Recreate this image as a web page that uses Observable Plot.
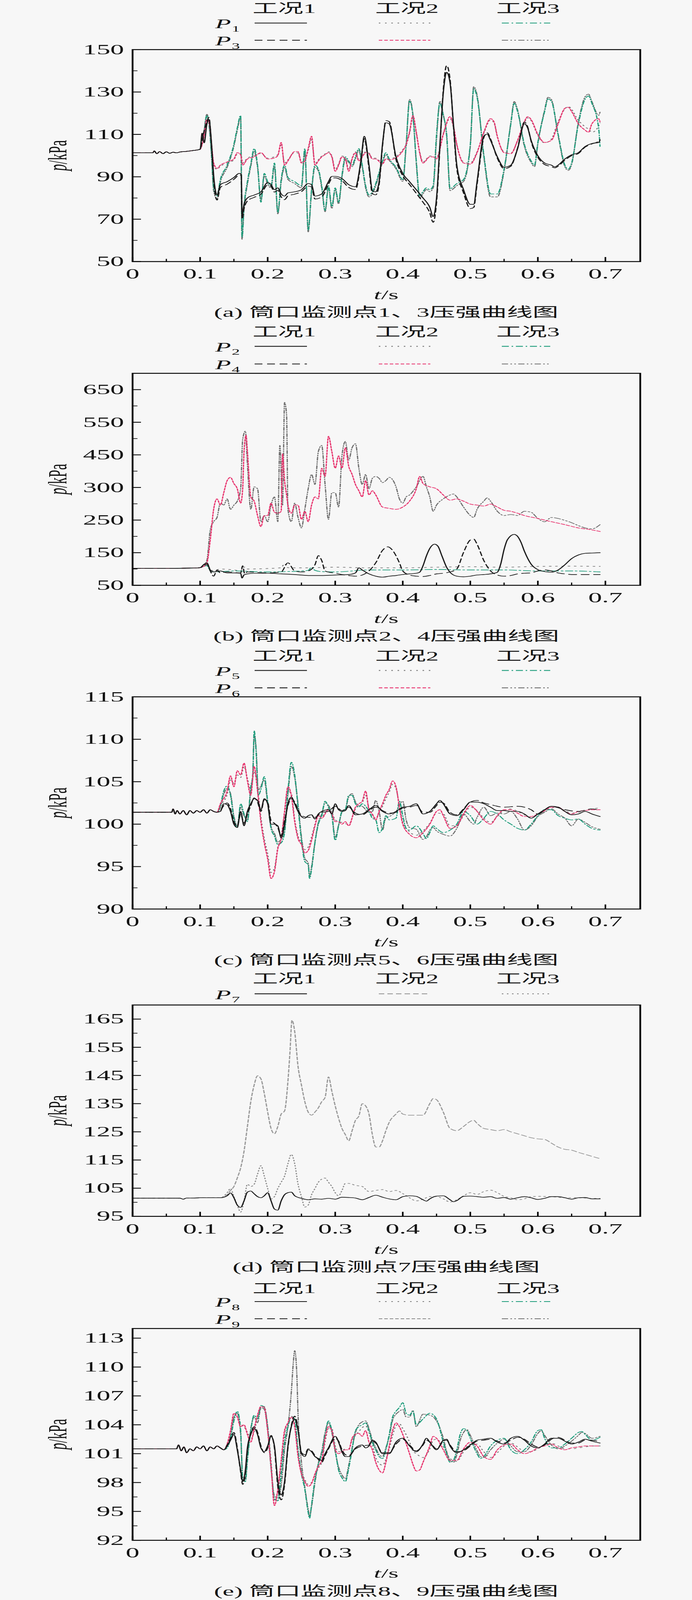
<!DOCTYPE html>
<html><head><meta charset="utf-8">
<script src="https://cdn.jsdelivr.net/npm/d3@7"></script>
<script src="https://cdn.jsdelivr.net/npm/@observablehq/plot@0.6"></script>
<style>
html,body{margin:0;padding:0;background:#f7f7f7;}
#root{position:relative;width:1772px;height:7918px;background:#f7f7f7;overflow:hidden;}
.cap{position:absolute;left:339px;width:1300px;height:80px;line-height:80px;text-align:center;font-size:66px;color:#111;font-family:"Liberation Serif","Noto Sans CJK SC",serif;white-space:nowrap;}
</style></head>
<body><div id="root"></div>
<script>
// ---------------- DATA ----------------
const xMajor = [0,0.1,0.2,0.3,0.4,0.5,0.6,0.7];
const xMinor = [0.05,0.15,0.25,0.35,0.45,0.55,0.65];
const xTickLabels = ["0","0.1","0.2","0.3","0.4","0.5","0.6","0.7"];
const caseNames = ["工况1","工况2","工况3"];

// Panel (a): P1 / P3
const a_start = [0,101.3, 0.03,101.3, 0.032,102.2, 0.036,100.9, 0.04,101.9, 0.045,100.9, 0.05,101.8, 0.055,101.1, 0.06,101.6, 0.065,101.3, 0.07,101.7, 0.08,102, 0.09,102.4, 0.098,102.8];
const a_c1_P1 = [0.1,103, 0.103,110.6, 0.106,106, 0.11,115, 0.113,117, 0.117,105, 0.12,90.7, 0.125,81.4, 0.13,86.3, 0.14,87.7, 0.15,89.7, 0.158,91.6, 0.161,91, 0.162,72, 0.165,77, 0.17,80, 0.18,81.4, 0.19,82.9, 0.2,87.3, 0.205,86.3, 0.21,83.9, 0.215,84.8, 0.22,81.9, 0.225,80.9, 0.23,82.4, 0.24,82.9, 0.25,83.9, 0.26,86.8, 0.265,86.3, 0.27,80.9, 0.28,81.9, 0.29,87.7, 0.295,90.2, 0.3,90.2, 0.31,89.2, 0.32,86.3, 0.33,85.3, 0.338,97.5, 0.343,109.1, 0.35,95.5, 0.355,83.4, 0.36,82.9, 0.365,87.7, 0.37,105.3, 0.375,115.5, 0.38,115, 0.39,99.4, 0.4,91.6, 0.41,87.7, 0.42,83.9, 0.43,80, 0.44,75.6, 0.445,71.2, 0.45,80, 0.455,105.3, 0.46,129.6, 0.465,139.3, 0.47,134.4, 0.475,115, 0.48,95.5, 0.49,83.9, 0.5,77, 0.505,77, 0.51,87.7, 0.52,109.1, 0.525,110.1, 0.53,107.2, 0.54,99.4, 0.55,94.5, 0.56,95.5, 0.57,103.3, 0.58,115, 0.585,113, 0.59,107.2, 0.6,99.9, 0.61,96.5, 0.62,95.5, 0.625,94.7, 0.63,95.5, 0.64,98.4, 0.65,100.4, 0.66,101.4, 0.67,104.3, 0.68,105.7, 0.69,106.2, 0.692,107.2];
const a_c1_P3 = [0.1,103, 0.104,109, 0.11,116, 0.113,118, 0.117,104, 0.12,88.5, 0.125,79, 0.13,85, 0.14,86.5, 0.15,88.8, 0.158,90.8, 0.161,90.5, 0.162,70, 0.165,75, 0.17,78.6, 0.18,80.3, 0.19,81.8, 0.2,86.2, 0.205,85.5, 0.21,82.8, 0.215,83.6, 0.22,80.5, 0.225,79.2, 0.23,81, 0.24,81.8, 0.25,83, 0.26,85.6, 0.265,85.2, 0.27,79.5, 0.28,80.5, 0.29,86.5, 0.295,89.2, 0.3,89.5, 0.31,88.2, 0.32,85, 0.33,84, 0.338,96.5, 0.343,108, 0.35,94, 0.355,82, 0.36,81.5, 0.365,86.5, 0.37,104.5, 0.375,116.5, 0.38,116, 0.39,98.2, 0.4,90.5, 0.41,86.4, 0.42,82.2, 0.43,78, 0.44,73, 0.445,68.5, 0.45,78, 0.455,104, 0.46,131, 0.465,142.5, 0.47,136, 0.475,114, 0.48,94, 0.49,82.4, 0.5,75, 0.505,75.5, 0.51,86.5, 0.52,108.5, 0.525,110.8, 0.53,107.8, 0.54,98.8, 0.55,93.8, 0.56,95, 0.57,103.6, 0.58,115.8, 0.585,113.5, 0.59,106.8, 0.6,99.2, 0.61,95.8, 0.62,94.8, 0.625,94.2, 0.63,95, 0.64,97.8, 0.65,100, 0.66,101, 0.67,104, 0.68,105.5, 0.69,106.8, 0.692,107.6];
const a_c2_P1 = [0.1,103, 0.105,109, 0.11,118, 0.113,115, 0.117,104, 0.12,95.5, 0.125,93.5, 0.13,95, 0.14,96.5, 0.15,98, 0.155,100.8, 0.16,101, 0.163,96.5, 0.17,98.8, 0.18,99.8, 0.19,101, 0.2,98.8, 0.21,99.5, 0.215,100.5, 0.22,105, 0.225,96.5, 0.23,98, 0.24,101.5, 0.245,101.2, 0.25,97, 0.255,98, 0.26,102.5, 0.265,107.5, 0.27,96.2, 0.275,98, 0.28,99.8, 0.285,100.8, 0.29,101.8, 0.295,99.8, 0.3,93.5, 0.305,96, 0.31,99.8, 0.315,98.8, 0.32,93.5, 0.325,98.8, 0.33,101.8, 0.335,98, 0.34,99.8, 0.345,101.8, 0.35,101.2, 0.355,98.8, 0.36,98.8, 0.37,96.5, 0.375,98.8, 0.38,98.5, 0.39,99.5, 0.4,102.8, 0.405,105, 0.41,110.5, 0.415,117.8, 0.42,110.5, 0.425,101.8, 0.43,97, 0.44,99.8, 0.445,99.8, 0.45,99, 0.46,110.5, 0.47,117.5, 0.475,113.5, 0.48,105, 0.49,97, 0.5,96.5, 0.51,101.8, 0.52,110.5, 0.53,116.8, 0.535,115.5, 0.54,108.8, 0.55,101.8, 0.56,101.2, 0.57,107, 0.58,115.5, 0.585,117.8, 0.59,116.5, 0.6,109.5, 0.61,106, 0.62,107.8, 0.63,116, 0.64,122, 0.645,123.2, 0.65,121.8, 0.66,116.5, 0.665,115, 0.67,113.5, 0.675,112.5, 0.68,111, 0.69,114, 0.692,115.5];
const a_c2_P3 = [0.1,103, 0.105,108, 0.11,117, 0.113,116, 0.117,105, 0.12,96.5, 0.125,94, 0.13,95.5, 0.14,97, 0.15,98.4, 0.155,101.4, 0.16,100.4, 0.163,95.5, 0.17,98.4, 0.18,99.4, 0.19,101.4, 0.2,98.4, 0.21,98.9, 0.215,100, 0.22,106.2, 0.225,95.5, 0.23,97.5, 0.24,101.9, 0.245,101.9, 0.25,96.5, 0.255,97.5, 0.26,103.3, 0.265,109.1, 0.27,95.5, 0.275,97.5, 0.28,99.4, 0.285,100.4, 0.29,101.4, 0.295,99.4, 0.3,92.6, 0.305,95.5, 0.31,99.4, 0.315,98.4, 0.32,92.6, 0.325,98.4, 0.33,101.4, 0.335,97.5, 0.34,99.4, 0.345,101.4, 0.35,100.9, 0.355,98.4, 0.36,98.4, 0.37,96, 0.375,98.4, 0.38,98, 0.39,99, 0.4,102.3, 0.405,105.3, 0.41,111.1, 0.415,118.9, 0.42,111.1, 0.425,101.4, 0.43,96.5, 0.44,99.4, 0.445,99.4, 0.45,98.4, 0.46,110, 0.47,118.4, 0.475,114, 0.48,105.3, 0.49,96.5, 0.5,96, 0.51,101.4, 0.52,111, 0.53,117.4, 0.535,116, 0.54,109.1, 0.55,101.4, 0.56,100.9, 0.57,107.2, 0.58,116, 0.585,118.4, 0.59,117, 0.6,110, 0.61,106.2, 0.62,107.2, 0.63,115, 0.64,122.3, 0.645,122.8, 0.65,120.8, 0.66,115, 0.67,112, 0.675,111, 0.68,115, 0.69,117.4, 0.692,116];
const a_c3_P1 = [0.1,103, 0.105,109, 0.11,119, 0.113,115, 0.117,100, 0.12,84.8, 0.125,81, 0.13,88.7, 0.14,95.5, 0.15,105.3, 0.155,113, 0.16,118.9, 0.162,61.5, 0.165,76, 0.17,87.7, 0.175,96, 0.18,103.3, 0.185,95.5, 0.19,78, 0.195,91.6, 0.2,87.7, 0.205,85.8, 0.21,96.5, 0.215,73.2, 0.22,88.7, 0.225,95.5, 0.23,89.7, 0.24,87.7, 0.25,85.8, 0.255,103.3, 0.26,64.9, 0.265,83.9, 0.27,95.5, 0.275,93.6, 0.28,85.8, 0.285,74.1, 0.29,85.8, 0.295,76, 0.3,84.8, 0.305,78, 0.31,90.7, 0.315,99.4, 0.32,97.5, 0.325,95.5, 0.33,99.4, 0.335,103.3, 0.34,95.5, 0.345,85.8, 0.35,81.4, 0.355,82.9, 0.36,86.8, 0.37,97.5, 0.375,101.4, 0.38,98.4, 0.39,94.5, 0.4,88.7, 0.405,105.3, 0.41,125.7, 0.415,118.9, 0.42,97.5, 0.425,81, 0.43,83, 0.435,84.8, 0.44,83.9, 0.445,85.8, 0.45,110, 0.455,124.7, 0.46,118.9, 0.465,110, 0.47,84.4, 0.48,86.8, 0.485,87.7, 0.49,88.7, 0.5,105.3, 0.505,131.5, 0.51,127.6, 0.52,100.4, 0.53,81.9, 0.54,81.9, 0.55,93.6, 0.56,115, 0.565,124.7, 0.57,120.8, 0.58,105.3, 0.59,97.5, 0.595,95.5, 0.6,106.2, 0.61,120.8, 0.615,126.7, 0.62,125.7, 0.63,110.1, 0.64,95.5, 0.645,93.6, 0.65,96.5, 0.66,115, 0.67,126.7, 0.675,128.1, 0.68,124.7, 0.69,113, 0.692,104.3];
const a_c3_P3 = [0.1,103, 0.105,110, 0.11,119.5, 0.113,116, 0.117,99, 0.12,83.5, 0.125,79.5, 0.13,87.5, 0.14,94.5, 0.15,104.5, 0.155,112, 0.16,118, 0.162,60.5, 0.165,75, 0.17,86.5, 0.175,95, 0.18,102, 0.185,94.5, 0.19,79, 0.195,90.5, 0.2,86.5, 0.205,84.8, 0.21,95, 0.215,72.5, 0.22,87.5, 0.225,94.5, 0.23,88.8, 0.24,86.8, 0.25,84.8, 0.255,102, 0.26,64, 0.265,83, 0.27,94.5, 0.275,92.8, 0.28,84.8, 0.285,73.5, 0.29,84.8, 0.295,75, 0.3,84, 0.305,77.2, 0.31,89.8, 0.315,98.5, 0.32,96.8, 0.325,94.8, 0.33,98.5, 0.335,102.5, 0.34,94.8, 0.345,84.8, 0.35,80.5, 0.355,82, 0.36,85.8, 0.37,96.8, 0.375,100.5, 0.38,97.8, 0.39,93.8, 0.4,87.8, 0.405,104.5, 0.41,126.5, 0.415,119.5, 0.42,96.5, 0.425,80, 0.43,82, 0.435,84, 0.44,83, 0.445,84.8, 0.45,108, 0.455,125.5, 0.46,119.5, 0.465,109, 0.47,83.5, 0.48,85.8, 0.485,86.8, 0.49,87.8, 0.5,104.5, 0.505,132.5, 0.51,128.5, 0.52,99.5, 0.53,80.5, 0.54,80.5, 0.55,92.8, 0.56,115.5, 0.565,125.5, 0.57,121.5, 0.58,104.5, 0.59,96.8, 0.595,94.8, 0.6,105.5, 0.61,121.5, 0.615,127.5, 0.62,126.5, 0.63,109.5, 0.64,94.8, 0.645,93, 0.65,95.8, 0.66,115.8, 0.67,127.8, 0.675,129, 0.68,125.5, 0.69,119, 0.692,120.5];

// Panel (b): P2 / P4
const b_start = [0,102, 0.05,102, 0.09,103, 0.1,104];
const b_c1_P2 = [0.105,113, 0.11,119, 0.115,97, 0.12,91, 0.13,94, 0.14,88, 0.15,88, 0.16,87, 0.162,72, 0.165,82, 0.17,85, 0.18,87, 0.2,87, 0.22,85, 0.24,83, 0.26,80, 0.28,80, 0.3,81.5, 0.32,83, 0.33,88, 0.335,103.5, 0.34,97, 0.35,85, 0.36,78, 0.37,75, 0.38,78, 0.39,80, 0.4,83, 0.41,85, 0.42,87, 0.425,90, 0.43,110, 0.435,140, 0.44,163, 0.447,176, 0.452,170, 0.458,140, 0.465,105, 0.47,90, 0.48,78, 0.49,76, 0.5,78, 0.51,81.5, 0.52,83, 0.53,85, 0.54,90, 0.545,115, 0.55,160, 0.555,190, 0.565,206, 0.57,200, 0.575,182, 0.58,155, 0.59,115, 0.6,98, 0.61,92, 0.62,90, 0.63,97, 0.64,113, 0.65,132, 0.66,143, 0.67,148, 0.68,149, 0.692,150];
const b_c1_P4 = [0.105,110, 0.11,115, 0.115,94, 0.12,78, 0.125,97, 0.13,88, 0.14,91, 0.16,88, 0.163,110, 0.166,85, 0.17,91, 0.2,88, 0.22,91, 0.23,119, 0.24,94, 0.25,91, 0.26,94, 0.27,113, 0.275,141, 0.28,126, 0.285,94, 0.3,87, 0.32,80, 0.33,78, 0.34,81.5, 0.35,94, 0.36,119, 0.37,157, 0.378,168, 0.385,157, 0.395,119, 0.4,94, 0.41,81.5, 0.42,78, 0.43,77, 0.44,80, 0.45,85, 0.46,87, 0.47,91, 0.48,100, 0.49,151, 0.5,189, 0.505,192, 0.51,176, 0.52,126, 0.53,94, 0.54,81.5, 0.55,78, 0.56,80, 0.57,85, 0.58,87, 0.59,88, 0.6,94, 0.61,97, 0.62,94, 0.63,88, 0.64,85, 0.65,83, 0.67,83, 0.692,83];
const b_c2_P2 = [0.105,108, 0.11,112, 0.115,100, 0.12,94, 0.13,100, 0.15,97, 0.16,95, 0.165,106, 0.17,100, 0.2,101.5, 0.22,104, 0.225,116, 0.23,104, 0.25,103.5, 0.3,105.5, 0.35,103.5, 0.4,103.5, 0.45,105.5, 0.5,107, 0.55,105.5, 0.6,108, 0.65,108.6, 0.692,108];
const b_c3_P2 = [0.105,108, 0.11,110, 0.115,95, 0.12,91, 0.15,94, 0.2,91, 0.25,94, 0.26,96, 0.265,105, 0.27,96, 0.28,92, 0.3,91, 0.35,97, 0.4,97, 0.45,98.5, 0.5,97, 0.55,97, 0.6,94, 0.65,94, 0.692,91];
const b_c2_P4 = [0.105,108, 0.11,119, 0.115,189, 0.12,283, 0.125,315, 0.13,296, 0.135,334, 0.14,371, 0.145,381, 0.15,362, 0.155,346, 0.16,302, 0.163,346, 0.165,460, 0.168,510, 0.17,460, 0.175,321, 0.18,308, 0.185,264, 0.19,230, 0.195,264, 0.2,264, 0.205,302, 0.21,274, 0.215,271, 0.22,277, 0.222,453, 0.225,371, 0.228,327, 0.23,296, 0.235,271, 0.24,296, 0.245,296, 0.25,252, 0.255,277, 0.26,245, 0.265,296, 0.27,321, 0.275,315, 0.28,409, 0.285,384, 0.29,507, 0.295,460, 0.3,409, 0.305,447, 0.31,409, 0.315,472, 0.32,415, 0.325,390, 0.33,359, 0.335,340, 0.34,321, 0.345,371, 0.35,327, 0.355,340, 0.36,327, 0.37,290, 0.38,286, 0.39,283, 0.4,290, 0.41,308, 0.42,346, 0.425,384, 0.43,362, 0.44,352, 0.45,346, 0.46,327, 0.47,311, 0.48,315, 0.49,308, 0.5,299, 0.51,296, 0.52,293, 0.53,299, 0.54,290, 0.55,280, 0.56,277, 0.57,271, 0.58,264, 0.6,255, 0.62,245, 0.64,236, 0.66,226, 0.68,220, 0.692,215];
const b_c3_P4 = [0.105,110, 0.11,126, 0.115,220, 0.12,245, 0.125,258, 0.13,302, 0.135,296, 0.14,315, 0.145,283, 0.15,296, 0.155,308, 0.16,346, 0.163,497, 0.167,523, 0.17,422, 0.175,283, 0.18,352, 0.185,346, 0.19,245, 0.195,264, 0.2,245, 0.205,296, 0.21,321, 0.215,245, 0.218,479, 0.222,296, 0.225,611, 0.228,573, 0.23,283, 0.235,245, 0.24,302, 0.245,258, 0.25,226, 0.255,283, 0.26,346, 0.265,390, 0.27,359, 0.275,460, 0.28,479, 0.285,359, 0.29,252, 0.295,334, 0.3,334, 0.305,290, 0.31,447, 0.315,491, 0.32,434, 0.325,472, 0.33,484, 0.335,409, 0.34,359, 0.345,390, 0.35,346, 0.355,378, 0.36,384, 0.365,378, 0.37,365, 0.375,371, 0.38,381, 0.39,352, 0.395,315, 0.4,302, 0.405,321, 0.41,327, 0.42,352, 0.43,384, 0.435,352, 0.44,321, 0.445,277, 0.45,296, 0.46,315, 0.47,327, 0.475,330, 0.48,321, 0.49,290, 0.5,264, 0.505,258, 0.51,283, 0.52,308, 0.525,318, 0.53,308, 0.54,277, 0.55,264, 0.56,267, 0.57,264, 0.58,277, 0.59,274, 0.6,255, 0.61,245, 0.62,258, 0.63,255, 0.64,249, 0.65,242, 0.66,233, 0.67,226, 0.68,223, 0.692,236];
const b_tickLabels = ["50","150","250","300","450","550","650"];

// Panel (c): P5 / P6
const c_start = [0,101.4, 0.058,101.4, 0.06,101.8, 0.063,101.2, 0.066,101.6, 0.07,101.2, 0.075,101.6, 0.08,101.1, 0.085,101.6, 0.09,101.3, 0.095,101.6, 0.1,101.4, 0.105,101.7, 0.11,101.3, 0.115,101.7, 0.12,101.5, 0.125,101.4];
const c_c1_P5 = [0.13,101.5, 0.135,102.4, 0.14,102.3, 0.145,101.5, 0.15,100, 0.155,99.6, 0.16,101.5, 0.165,99.8, 0.17,101.5, 0.175,102.4, 0.18,103, 0.185,102.8, 0.19,101.7, 0.195,103, 0.2,102.4, 0.205,100, 0.21,100, 0.215,99.8, 0.22,98.4, 0.225,100, 0.23,102.4, 0.235,103.2, 0.24,102.4, 0.245,101.5, 0.25,100.9, 0.255,100.7, 0.26,101, 0.265,101.1, 0.27,100.6, 0.275,101.2, 0.28,101.5, 0.29,101.7, 0.295,101.2, 0.3,102.4, 0.305,101.7, 0.31,101.5, 0.315,101.6, 0.32,102.2, 0.33,101.1, 0.34,101.2, 0.35,101.7, 0.36,102.2, 0.37,101.5, 0.38,101.2, 0.39,101.5, 0.4,102, 0.41,102.1, 0.42,102.4, 0.43,101.2, 0.44,101.5, 0.45,102.4, 0.455,102.8, 0.46,102.4, 0.47,101.2, 0.48,101, 0.49,101.7, 0.5,102.6, 0.51,102.6, 0.52,102.4, 0.53,102, 0.54,101.6, 0.55,101.6, 0.56,101.5, 0.57,101.5, 0.58,101.2, 0.59,100.7, 0.6,101.2, 0.61,101.7, 0.62,102.1, 0.63,102, 0.64,101.5, 0.65,101.1, 0.66,101.2, 0.67,101.5, 0.68,101.2, 0.692,100.9];
const c_c1_P6 = [0.13,101.6, 0.135,102.2, 0.14,102.5, 0.145,101.8, 0.15,100.3, 0.155,99.8, 0.16,101.2, 0.165,100.1, 0.17,101.2, 0.175,102.2, 0.18,103.1, 0.185,102.6, 0.19,101.5, 0.195,102.9, 0.2,102.6, 0.205,100.4, 0.21,100.1, 0.215,99.6, 0.22,98.6, 0.225,100.4, 0.23,102.2, 0.235,103, 0.24,102.6, 0.245,101.7, 0.25,101, 0.26,100.8, 0.27,100.8, 0.28,101.4, 0.29,101.5, 0.3,102.1, 0.31,101.6, 0.32,102, 0.33,101.3, 0.34,101.1, 0.35,101.6, 0.36,102, 0.37,101.6, 0.38,101.3, 0.39,101.4, 0.4,101.9, 0.41,102, 0.42,102.2, 0.43,101.4, 0.44,101.4, 0.45,102.2, 0.455,102.6, 0.46,102.5, 0.47,101.4, 0.48,101.1, 0.49,101.8, 0.5,102.6, 0.51,102.8, 0.52,102.5, 0.53,102.3, 0.55,102, 0.57,102.1, 0.59,101.7, 0.6,101.2, 0.62,102.1, 0.64,101.7, 0.66,101.5, 0.68,101.8, 0.692,101.6];
const c_c2_P5 = [0.13,102.2, 0.14,103.5, 0.145,105.2, 0.15,104.8, 0.155,105.8, 0.16,105.5, 0.165,106.8, 0.17,105.4, 0.175,104, 0.18,106.2, 0.185,104.3, 0.19,100.8, 0.195,98.3, 0.2,96.5, 0.205,94.3, 0.21,94.8, 0.215,97.3, 0.22,98.6, 0.225,101.2, 0.23,103.9, 0.235,103.6, 0.24,100.6, 0.245,98.6, 0.25,97.8, 0.255,97, 0.26,97.3, 0.265,98.5, 0.27,100, 0.275,101, 0.28,100.9, 0.29,101.8, 0.295,101.4, 0.3,100.5, 0.31,100.2, 0.32,100, 0.33,101.8, 0.34,102.5, 0.345,103.4, 0.35,101.9, 0.36,100.7, 0.365,101.3, 0.37,102.1, 0.375,103, 0.38,103.8, 0.385,104.7, 0.39,104.2, 0.395,102.2, 0.4,100.3, 0.41,99.1, 0.42,98.7, 0.43,99.2, 0.44,100.1, 0.45,101.3, 0.46,101.2, 0.47,99.8, 0.48,99.9, 0.49,101, 0.5,102, 0.51,101.6, 0.52,100.7, 0.53,100.2, 0.54,100.9, 0.55,101.6, 0.56,101.8, 0.57,101.5, 0.58,101.1, 0.59,100.8, 0.6,101.1, 0.61,101.5, 0.62,101.9, 0.63,102, 0.64,101.6, 0.65,101.3, 0.66,101.4, 0.67,101.6, 0.68,101.8, 0.692,101.9];
const c_c2_P6 = [0.13,102.4, 0.14,103.9, 0.145,105.7, 0.15,104.4, 0.155,106.3, 0.16,105.8, 0.165,107.2, 0.17,105.1, 0.175,103.4, 0.18,106.8, 0.185,103.9, 0.19,100.3, 0.195,97.8, 0.2,95.9, 0.205,93.6, 0.21,94.4, 0.215,97.1, 0.22,98.3, 0.225,101.5, 0.23,104.4, 0.235,103.4, 0.24,100.3, 0.245,98.3, 0.25,97.6, 0.255,96.6, 0.26,96.9, 0.265,98.1, 0.27,99.8, 0.275,101, 0.28,100.7, 0.29,101.7, 0.295,101.2, 0.3,100.3, 0.305,100.3, 0.31,100, 0.315,100.3, 0.32,99.8, 0.33,102, 0.335,102.4, 0.34,102.7, 0.345,103.9, 0.35,101.7, 0.355,101.2, 0.36,100.5, 0.365,101.5, 0.37,102.4, 0.375,103.4, 0.38,104.1, 0.385,105.1, 0.39,104.4, 0.395,102, 0.4,100, 0.41,98.8, 0.42,98.4, 0.43,99, 0.44,100, 0.45,101.5, 0.455,101.7, 0.46,101, 0.47,99.5, 0.48,99.8, 0.49,101.2, 0.5,102.2, 0.51,101.5, 0.52,100.5, 0.53,100, 0.54,101, 0.55,101.7, 0.56,101.7, 0.57,101.3, 0.58,100.9, 0.59,100.9, 0.6,101.2, 0.61,101.6, 0.62,102, 0.63,102, 0.64,101.5, 0.65,101.2, 0.66,101.5, 0.67,101.6, 0.68,101.7, 0.692,101.7];
const c_c3_P5 = [0.13,102.2, 0.135,103.9, 0.14,104.5, 0.145,103.4, 0.15,100.7, 0.155,99.6, 0.16,102.4, 0.165,101.2, 0.17,100.3, 0.175,104.4, 0.178,105.8, 0.18,111, 0.183,108.3, 0.186,103.4, 0.19,104.1, 0.195,105.6, 0.2,102.7, 0.205,99.5, 0.21,98.6, 0.215,97.6, 0.22,97.8, 0.225,99, 0.23,103.9, 0.235,107.3, 0.24,105.8, 0.245,102, 0.25,98.1, 0.255,95.6, 0.26,95.2, 0.262,93.6, 0.265,94.7, 0.27,97.8, 0.275,100, 0.28,101, 0.285,102.7, 0.29,102, 0.295,101, 0.3,98.1, 0.305,99.8, 0.31,101.5, 0.315,101.7, 0.32,103.4, 0.325,103.4, 0.33,102.4, 0.335,102, 0.34,102.4, 0.35,101.5, 0.355,100.7, 0.36,100.5, 0.365,99, 0.37,99.5, 0.375,101, 0.38,100.5, 0.39,100.7, 0.395,102.7, 0.4,101, 0.405,99.5, 0.41,99.3, 0.42,99.8, 0.43,98.9, 0.435,98.3, 0.44,99, 0.445,99.8, 0.45,99.5, 0.46,99, 0.47,99.3, 0.48,100, 0.49,101.5, 0.5,101, 0.51,100, 0.52,100.7, 0.53,101.5, 0.54,101.2, 0.55,100.5, 0.56,100, 0.57,99.5, 0.58,99.3, 0.59,100, 0.6,101, 0.61,101.7, 0.62,101.7, 0.63,101, 0.64,100.7, 0.65,100.5, 0.66,100.6, 0.67,100, 0.68,99.5, 0.692,99.3];
const c_c3_P6 = [0.13,102, 0.135,103.5, 0.14,104.2, 0.145,103.6, 0.15,100.9, 0.155,99.8, 0.16,102, 0.165,101, 0.17,100.5, 0.175,104, 0.178,106, 0.18,110.5, 0.183,108.8, 0.186,104, 0.19,104.5, 0.195,105.2, 0.2,102.4, 0.205,99.7, 0.21,98.9, 0.215,97.9, 0.22,98.2, 0.225,99.4, 0.23,103.5, 0.235,106.8, 0.24,105.5, 0.245,102.3, 0.25,98.5, 0.255,96, 0.26,95.4, 0.262,93.9, 0.265,95, 0.27,97.9, 0.275,100.2, 0.28,101.2, 0.285,102.5, 0.29,102.2, 0.295,101.2, 0.3,98.4, 0.305,99.9, 0.31,101.4, 0.315,101.8, 0.32,103.2, 0.325,103.6, 0.33,102.6, 0.335,102.2, 0.34,102.1, 0.35,101.4, 0.355,101.5, 0.36,102.8, 0.365,101.5, 0.37,99.3, 0.375,100.8, 0.38,100.9, 0.39,101.5, 0.4,102.7, 0.405,100.5, 0.41,99.6, 0.42,99.4, 0.43,98.2, 0.435,98.5, 0.44,99.3, 0.445,99.6, 0.45,99.2, 0.46,98.8, 0.47,98.6, 0.48,99.5, 0.49,101.2, 0.5,100.3, 0.505,100, 0.51,100.8, 0.52,102, 0.53,101, 0.54,101.3, 0.55,101.2, 0.56,101.5, 0.57,100.6, 0.58,99.3, 0.59,99.8, 0.6,100.9, 0.61,101.4, 0.62,101.8, 0.63,101.2, 0.64,100.7, 0.65,99.8, 0.66,100.6, 0.67,100.2, 0.68,99.7, 0.692,99.4];

// Panel (d): P7
const d_start = [0,101.45, 0.07,101.45, 0.075,101.1, 0.08,101.5, 0.09,101.5, 0.1,101.6, 0.12,101.6, 0.13,101.6];
const d_c1 = [0.14,102.3, 0.145,103.3, 0.15,101.6, 0.155,99, 0.16,98.2, 0.165,100.5, 0.17,103.6, 0.175,104, 0.18,103, 0.185,102, 0.19,101.6, 0.195,102.3, 0.2,103.4, 0.205,100.5, 0.21,97.6, 0.215,97.2, 0.22,100.5, 0.225,102.7, 0.23,103.4, 0.235,103.6, 0.24,102.3, 0.25,101.4, 0.26,100.9, 0.27,101.2, 0.28,101.1, 0.29,101.4, 0.3,101.1, 0.31,101.8, 0.32,101.7, 0.33,101.5, 0.34,100.9, 0.35,101.7, 0.36,102.5, 0.37,101.8, 0.38,101.2, 0.39,100.9, 0.4,102, 0.41,102.3, 0.42,102.1, 0.43,100.9, 0.435,100.4, 0.44,101.2, 0.45,102.2, 0.46,102.3, 0.47,100.9, 0.475,100.2, 0.48,100.6, 0.49,102.1, 0.5,102.2, 0.51,102, 0.52,101.8, 0.53,102, 0.54,101.4, 0.55,101.7, 0.56,101.1, 0.57,101.6, 0.58,102, 0.59,101.6, 0.6,101, 0.61,101.4, 0.62,102, 0.63,102, 0.64,101.6, 0.65,101.1, 0.66,101.6, 0.67,101.7, 0.68,101.2, 0.692,101.2];
const d_c2 = [0.14,102.7, 0.145,104.2, 0.15,105.6, 0.155,108.6, 0.16,112.2, 0.165,118.1, 0.17,126.9, 0.175,135.7, 0.18,141.6, 0.185,144.9, 0.19,143.8, 0.195,138.6, 0.2,132, 0.205,126.2, 0.21,124.3, 0.215,126.9, 0.22,131.3, 0.225,132.4, 0.23,143, 0.233,153.3, 0.236,164.6, 0.24,160.6, 0.245,148.1, 0.25,141.6, 0.255,135.7, 0.26,132, 0.265,130.9, 0.27,132, 0.275,133.5, 0.28,135.7, 0.285,137.2, 0.29,144.5, 0.295,139.4, 0.3,134.2, 0.305,129.8, 0.31,126.2, 0.315,124, 0.32,121.8, 0.325,125.4, 0.33,129.1, 0.335,130.6, 0.34,135, 0.345,134.2, 0.35,131.3, 0.355,124, 0.36,119.6, 0.365,119.6, 0.37,121.8, 0.375,125.4, 0.38,128.4, 0.39,131.3, 0.395,132.4, 0.4,131.3, 0.41,130.9, 0.42,130.9, 0.43,130.9, 0.44,135, 0.445,136.8, 0.45,136.4, 0.46,132, 0.47,126.2, 0.48,125.4, 0.49,126.9, 0.5,128.7, 0.505,129.1, 0.51,128, 0.52,126.2, 0.53,125.8, 0.54,125.4, 0.55,125.8, 0.56,125, 0.57,124.3, 0.58,123.6, 0.59,122.9, 0.6,122.5, 0.61,122.3, 0.62,121, 0.63,119.6, 0.64,118.8, 0.65,118.5, 0.66,117.7, 0.67,117, 0.68,116.3, 0.692,115.5];
const d_c3 = [0.14,103.4, 0.145,104.9, 0.15,102, 0.155,99, 0.16,96.5, 0.165,100.5, 0.17,106.4, 0.175,105.6, 0.18,106.4, 0.185,110, 0.19,113, 0.195,109.3, 0.2,104.9, 0.205,101.2, 0.21,102, 0.215,104.9, 0.22,107.1, 0.225,109.3, 0.23,113.7, 0.235,117, 0.24,113.7, 0.245,106.4, 0.25,102, 0.255,98.3, 0.26,99, 0.265,102.7, 0.27,104.9, 0.275,107.1, 0.28,108.2, 0.285,108.6, 0.29,107.1, 0.295,105.6, 0.3,103.4, 0.305,102.3, 0.31,104.2, 0.315,106.7, 0.32,106.7, 0.33,106, 0.34,105.6, 0.35,103.8, 0.36,104.2, 0.37,104.5, 0.38,103.8, 0.39,104.2, 0.4,103.1, 0.41,101.6, 0.42,100.5, 0.43,101.1, 0.44,102, 0.45,102, 0.46,101.2, 0.47,100.1, 0.48,100.9, 0.49,102.3, 0.5,103.4, 0.51,102.8, 0.52,103.8, 0.53,104.3, 0.54,103.4, 0.55,102.1, 0.56,101.6, 0.57,100.9, 0.58,101.2, 0.59,102, 0.6,102.1, 0.62,102, 0.64,101.6, 0.66,101.6, 0.68,101.4, 0.692,101.4];

// Panel (e): P8 / P9
const e_start = [0,101.5, 0.065,101.5, 0.068,101.9, 0.072,101.3, 0.076,101.7, 0.08,101.1, 0.085,101.5, 0.09,101.3, 0.095,101.7, 0.1,101.5, 0.105,101.8, 0.11,101.3, 0.115,101.7, 0.12,101.5, 0.125,101.8, 0.13,101.6, 0.135,101.4];
const e_c1_P8 = [0.14,101.8, 0.145,102.4, 0.15,103, 0.155,101.4, 0.16,99.3, 0.163,98.1, 0.167,99.3, 0.17,101.6, 0.175,103, 0.18,103.6, 0.185,103, 0.19,101.6, 0.195,101.2, 0.2,101.8, 0.205,102.8, 0.21,101.8, 0.215,98.1, 0.22,96.7, 0.225,98.1, 0.23,101.8, 0.235,103.8, 0.24,104.6, 0.245,103.4, 0.25,101, 0.255,100.7, 0.26,101.4, 0.265,101.2, 0.27,100.7, 0.275,100.5, 0.28,100.3, 0.285,101, 0.29,101.6, 0.3,102.8, 0.305,102.2, 0.31,101.2, 0.315,100.7, 0.32,100.7, 0.33,101.6, 0.34,101.9, 0.345,101.6, 0.35,101.8, 0.355,102.4, 0.36,102.2, 0.37,101, 0.38,101, 0.39,102.2, 0.4,102.6, 0.41,101.8, 0.42,101.2, 0.43,102, 0.435,102.6, 0.44,102.2, 0.45,101.4, 0.46,102.4, 0.465,102.5, 0.47,101.8, 0.48,101.1, 0.49,101.4, 0.5,101.9, 0.51,102.4, 0.52,102.5, 0.53,102.6, 0.54,102.2, 0.55,102, 0.56,102.6, 0.57,102.8, 0.58,102.4, 0.59,101.8, 0.6,101.6, 0.61,102, 0.62,102.6, 0.63,102.6, 0.64,102.3, 0.65,102, 0.66,102.2, 0.67,102.5, 0.68,102.3, 0.692,102.1];
const e_c1_P9 = [0.14,101.9, 0.145,102.6, 0.15,103.2, 0.155,101.6, 0.16,99.1, 0.163,97.8, 0.167,99, 0.17,101.4, 0.175,103.1, 0.18,103.8, 0.185,103.2, 0.19,101.8, 0.195,101.1, 0.2,101.6, 0.205,102.9, 0.21,101.6, 0.215,97.6, 0.22,96.2, 0.225,97.8, 0.23,101.6, 0.235,103.9, 0.24,104.9, 0.245,103.6, 0.25,101.1, 0.255,100.9, 0.26,101.5, 0.265,101.3, 0.27,100.8, 0.275,100.4, 0.28,100.1, 0.285,100.8, 0.29,101.5, 0.3,102.6, 0.305,102.3, 0.31,101.4, 0.315,100.9, 0.32,100.8, 0.33,101.5, 0.34,101.8, 0.35,101.9, 0.355,102.3, 0.36,102.1, 0.37,101.1, 0.38,101.1, 0.39,102, 0.4,102.5, 0.41,101.9, 0.42,101.3, 0.43,101.9, 0.435,102.4, 0.44,102.2, 0.45,101.5, 0.46,102.3, 0.465,102.4, 0.47,101.9, 0.48,101.2, 0.49,101.3, 0.5,101.8, 0.51,102.3, 0.52,102.4, 0.53,102.5, 0.54,102.3, 0.55,102.1, 0.56,102.4, 0.57,102.7, 0.58,102.5, 0.59,102, 0.6,101.7, 0.61,101.9, 0.62,102.5, 0.63,102.7, 0.64,102.4, 0.65,102.1, 0.66,102.1, 0.67,102.4, 0.68,102.4, 0.692,102.2];
const e_c2_P8 = [0.14,101.9, 0.145,103.1, 0.15,104.8, 0.155,105.1, 0.16,104.1, 0.165,103.8, 0.17,103.2, 0.175,102.5, 0.18,103.3, 0.185,104.7, 0.19,105.7, 0.195,105.9, 0.2,103.8, 0.205,100.2, 0.21,96.1, 0.215,97, 0.22,99.8, 0.225,103, 0.23,104.1, 0.235,104.9, 0.24,104.1, 0.245,101.1, 0.25,99.2, 0.255,98.3, 0.26,97.8, 0.265,98, 0.27,98.7, 0.275,99.5, 0.28,100.1, 0.285,102.2, 0.29,103.6, 0.295,103.6, 0.3,101.8, 0.305,101.2, 0.31,101.3, 0.315,101.5, 0.32,101.5, 0.325,102.4, 0.33,102.9, 0.335,103.3, 0.34,103.7, 0.345,103.9, 0.35,103.2, 0.355,102, 0.36,100.6, 0.365,100, 0.37,99.8, 0.375,100.4, 0.38,101.5, 0.385,102.9, 0.39,103.9, 0.395,104.1, 0.4,103.6, 0.41,102.2, 0.415,101.3, 0.42,101, 0.43,100.6, 0.44,101.5, 0.445,102.4, 0.45,102.5, 0.46,101.7, 0.47,100.5, 0.48,100.2, 0.49,101.2, 0.5,102, 0.51,102, 0.52,101.2, 0.53,100.6, 0.54,101.1, 0.55,101.8, 0.56,102.1, 0.57,101.7, 0.58,101.2, 0.59,101.2, 0.6,101.5, 0.61,101.9, 0.62,102.1, 0.63,101.8, 0.64,101.5, 0.65,101.5, 0.66,101.6, 0.67,101.7, 0.68,101.8, 0.692,101.8];
const e_c2_P9 = [0.14,102, 0.145,103.4, 0.15,105.2, 0.155,104.8, 0.16,103.8, 0.165,104, 0.17,103, 0.175,102.2, 0.18,103.6, 0.185,105, 0.19,105.9, 0.195,105.8, 0.2,103.4, 0.205,99.7, 0.21,95.6, 0.215,97.3, 0.22,100.3, 0.225,103.4, 0.23,104.2, 0.235,104.8, 0.24,103.8, 0.245,100.7, 0.25,98.9, 0.255,98.1, 0.26,97.6, 0.265,97.9, 0.27,98.9, 0.275,99.7, 0.28,100.3, 0.285,102.6, 0.29,103.8, 0.295,103.4, 0.3,101.4, 0.305,101, 0.31,101.2, 0.315,101.4, 0.32,101.4, 0.325,102.6, 0.33,103, 0.335,103.1, 0.34,102.8, 0.345,103.4, 0.35,102.2, 0.355,101.4, 0.36,100.1, 0.365,99.3, 0.37,99, 0.375,100.1, 0.38,101.8, 0.385,103.4, 0.39,104.2, 0.395,103.8, 0.4,103, 0.41,101, 0.415,99.9, 0.42,99.2, 0.425,99.3, 0.43,100.1, 0.44,101.8, 0.445,102.8, 0.45,102.6, 0.46,101.4, 0.47,100.3, 0.48,100.3, 0.49,101.5, 0.5,102.2, 0.51,101.8, 0.52,100.7, 0.53,100.4, 0.54,101.4, 0.55,101.9, 0.56,102, 0.57,101.4, 0.58,101, 0.59,101.2, 0.6,101.6, 0.61,101.8, 0.62,102, 0.63,101.6, 0.64,101.4, 0.65,101.6, 0.66,101.7, 0.67,101.8, 0.68,101.8, 0.692,101.8];
const e_c3_P8 = [0.14,101.6, 0.145,102.6, 0.15,104.4, 0.155,105.4, 0.16,103.4, 0.163,98.3, 0.167,98.1, 0.17,100.3, 0.175,103.4, 0.18,105, 0.185,104.6, 0.19,106, 0.195,105.8, 0.2,103.8, 0.205,99.7, 0.21,96.3, 0.215,96.1, 0.22,98.9, 0.225,102.2, 0.23,103.8, 0.235,104.8, 0.24,104.6, 0.245,101.4, 0.25,98.9, 0.255,97.3, 0.26,94.9, 0.262,94.3, 0.265,95.7, 0.27,98.3, 0.275,99.9, 0.28,101, 0.285,103, 0.29,104.4, 0.295,103.4, 0.3,101.4, 0.305,99.3, 0.31,98.5, 0.315,98.1, 0.32,99.5, 0.325,101.4, 0.33,103.4, 0.335,103.8, 0.34,104, 0.345,104.2, 0.35,103.4, 0.355,102.2, 0.36,101.4, 0.365,100.7, 0.37,100.5, 0.375,101.4, 0.38,103, 0.385,104.8, 0.39,105.4, 0.395,105.8, 0.4,106.3, 0.405,105.2, 0.41,105, 0.415,105.4, 0.42,104, 0.43,104.6, 0.44,105.2, 0.45,104.6, 0.46,102.2, 0.465,101, 0.47,100.1, 0.475,100.3, 0.48,101.4, 0.485,103, 0.49,103.6, 0.495,103.4, 0.5,102.6, 0.51,101, 0.515,100.5, 0.52,100.7, 0.53,101.8, 0.54,102.4, 0.55,102.6, 0.56,101.4, 0.57,101, 0.58,101.4, 0.59,102.2, 0.6,103.4, 0.605,103.5, 0.61,102.6, 0.62,101.6, 0.63,101.6, 0.64,102, 0.65,102.6, 0.66,103.2, 0.665,103.3, 0.67,103, 0.68,102.4, 0.692,102.7];
const e_c3_P9 = [0.14,101.7, 0.145,102.8, 0.15,104.8, 0.155,105.2, 0.16,103, 0.163,98.6, 0.167,98.3, 0.17,100.6, 0.175,103.6, 0.18,104.8, 0.185,104.2, 0.19,105.8, 0.195,105.6, 0.2,103.4, 0.205,99.5, 0.21,96.6, 0.215,96.4, 0.22,97.7, 0.225,101.4, 0.23,103.8, 0.235,107.4, 0.238,110.5, 0.24,111.7, 0.243,109.5, 0.245,105, 0.25,100.1, 0.255,97.5, 0.26,95.2, 0.262,94.5, 0.265,95.5, 0.27,98, 0.275,100, 0.28,101.2, 0.285,103.2, 0.29,104.2, 0.295,103.2, 0.3,101.2, 0.305,99.6, 0.31,98.8, 0.315,98.4, 0.32,99.8, 0.325,101.6, 0.33,103.2, 0.335,104, 0.34,104.3, 0.345,104.4, 0.35,103.6, 0.355,102.4, 0.36,101.6, 0.365,100.9, 0.37,100.7, 0.375,101.6, 0.38,102.8, 0.385,104.5, 0.39,105.1, 0.395,105.4, 0.4,105.6, 0.405,104.8, 0.41,104.8, 0.415,105.5, 0.42,103.8, 0.43,105.1, 0.44,105, 0.45,104.4, 0.46,102.6, 0.465,101.2, 0.47,100.3, 0.475,100.1, 0.48,100.9, 0.485,102.4, 0.49,103.2, 0.495,103.5, 0.5,102.9, 0.51,101.3, 0.515,100.7, 0.52,100.6, 0.53,101.4, 0.54,102.1, 0.55,102.5, 0.56,101.8, 0.57,101.2, 0.58,101.2, 0.59,101.9, 0.6,103.1, 0.605,103.4, 0.61,102.9, 0.62,101.9, 0.63,101.5, 0.64,101.8, 0.65,102.3, 0.66,102.9, 0.665,103.2, 0.67,103.1, 0.68,102.6, 0.692,102.8];

// ---------------- STYLES ----------------
const FONT = '"Liberation Serif","Noto Sans CJK SC",serif';
const S = {
  c1o: {stroke:"#1a1a1a", dash:null},
  c1e: {stroke:"#1a1a1a", dash:"20,12"},
  c2o: {stroke:"#7a7a7a", dash:"4,12"},
  c2e: {stroke:"#e8336d", dash:"9,5"},
  c3o: {stroke:"#1f9d7c", dash:"18,7,4,7"},
  c3e: {stroke:"#707070", dash:"16,6,4,6,4,6"},
  d2:  {stroke:"#9a9a9a", dash:"14,8"},
  d3:  {stroke:"#8a8a8a", dash:"4,9"},
  e2e: {stroke:"#8a8a8a", dash:"9,5"}
};
const pairs = a => { const r = []; for (let i = 0; i < a.length; i += 2) r.push([a[i], a[i+1]]); return r; };

const panels = [
  {frameTop:245, frameH:1049, y:[50,150], yMajor:[50,70,90,110,130,150], yMinor:[60,80,100,120,140], headY:41,
   rows:[{y:114, sub:"1", st:[S.c1o,S.c2o,S.c3o]}, {y:199, sub:"3", st:[S.c1e,S.c2e,S.c3e]}],
   series:[[a_start,a_c3_P3,S.c3e],[a_start,a_c2_P1,S.c2o],[a_start,a_c3_P1,S.c3o],[a_start,a_c2_P3,S.c2e],[a_start,a_c1_P3,S.c1e],[a_start,a_c1_P1,S.c1o]],
   caption:"(a) 筒口监测点1、3压强曲线图"},
  {frameTop:1847, frameH:1049, y:[50,700], yMajor:[50,150,250,350,450,550,650], yMinor:[100,200,300,400,500,600], labels:b_tickLabels, headY:1641,
   rows:[{y:1714, sub:"2", st:[S.c1o,S.c2o,S.c3o]}, {y:1801, sub:"4", st:[S.c1e,S.c2e,S.c3e]}],
   series:[[b_start,b_c3_P4,S.c3e],[b_start,b_c2_P2,S.c2o],[b_start,b_c3_P2,S.c3o],[b_start,b_c2_P4,S.c2e],[b_start,b_c1_P4,S.c1e],[b_start,b_c1_P2,S.c1o]],
   caption:"(b) 筒口监测点2、4压强曲线图"},
  {frameTop:3448, frameH:1050, y:[90,115], yMajor:[90,95,100,105,110,115], yMinor:[92.5,97.5,102.5,107.5,112.5], headY:3246,
   rows:[{y:3318, sub:"5", st:[S.c1o,S.c2o,S.c3o]}, {y:3404, sub:"6", st:[S.c1e,S.c2e,S.c3e]}],
   series:[[c_start,c_c3_P6,S.c3e],[c_start,c_c2_P5,S.c2o],[c_start,c_c3_P5,S.c3o],[c_start,c_c2_P6,S.c2e],[c_start,c_c1_P6,S.c1e],[c_start,c_c1_P5,S.c1o]],
   caption:"(c) 筒口监测点5、6压强曲线图"},
  {frameTop:4973, frameH:1046, y:[95,170], yMajor:[95,105,115,125,135,145,155,165], yMinor:[100,110,120,130,140,150,160], headY:4843,
   rows:[{y:4918, sub:"7", st:[S.c1o,S.d2,S.d3]}],
   series:[[d_start,d_c3,S.d3],[d_start,d_c2,S.d2],[d_start,d_c1,S.c1o]],
   caption:"(d) 筒口监测点7压强曲线图"},
  {frameTop:6574, frameH:1048, y:[92,114], yMajor:[92,95,98,101,104,107,110,113], yMinor:[93.5,96.5,99.5,102.5,105.5,108.5,111.5], headY:6376,
   rows:[{y:6441, sub:"8", st:[S.c1o,S.c2o,S.c3o]}, {y:6526, sub:"9", st:[S.c1e,S.e2e,S.c3e]}],
   series:[[e_start,e_c3_P9,S.c3e],[e_start,e_c2_P8,S.c2o],[e_start,e_c3_P8,S.c3o],[e_start,e_c2_P9,S.c2e],[e_start,e_c1_P9,S.c1e],[e_start,e_c1_P8,S.c1o]],
   caption:"(e) 筒口监测点8、9压强曲线图"}
];

// ---------------- RENDER ----------------
const root = document.getElementById("root");
const MT = 20, MB = 220, ML = 339, MR = 133, W = 1772, H = 7918;
const xMax = 0.7516;
const plotW = W - ML - MR;
const TICK_FS = 70;

panels.forEach(p => {
  const [y0, y1] = p.y;
  const dyMaj = 22 / p.frameH * (y1 - y0), dyMin = 13 / p.frameH * (y1 - y0);
  const dxMaj = 22 / plotW * xMax, dxMin = 13 / plotW * xMax;
  const yLabs = p.labels || p.yMajor.map(String);
  const marks = [];
  p.series.forEach(([st, rest, s]) => {
    marks.push(Plot.line(pairs(st.concat(rest)), {x: d => d[0], y: d => d[1], stroke: s.stroke, strokeWidth: 3.2,
      strokeDasharray: s.dash || undefined, curve: "monotone-x", strokeLinejoin: "round"}));
  });
  marks.push(
    Plot.ruleX(xMajor, {x: d => d, y1: y0, y2: y0 + dyMaj, stroke: "#000", strokeWidth: 4}),
    Plot.ruleX(xMinor, {x: d => d, y1: y0, y2: y0 + dyMin, stroke: "#000", strokeWidth: 3}),
    Plot.ruleY(p.yMajor, {y: d => d, x1: 0, x2: dxMaj, stroke: "#000", strokeWidth: 4}),
    Plot.ruleY(p.yMinor, {y: d => d, x1: 0, x2: dxMin, stroke: "#000", strokeWidth: 3}),
    // tick labels drawn through the scales as text marks
    Plot.text(xMajor, {x: d => d, y: () => y0, text: (d, i) => xTickLabels[i], dy: 62, fontSize: TICK_FS,
      fontFamily: "Liberation Serif", fill: "#111", textAnchor: "middle", lineAnchor: "middle"}),
    Plot.text(p.yMajor, {x: () => 0, y: d => d, text: (d, i) => yLabs[i], dx: -22, fontSize: TICK_FS,
      fontFamily: "Liberation Serif", fill: "#111", textAnchor: "end", lineAnchor: "middle"}),
    Plot.frame({stroke: "#000", strokeWidth: 4.5})
  );
  const svg = Plot.plot({
    width: W, height: MT + p.frameH + MB,
    marginLeft: ML, marginRight: MR, marginTop: MT, marginBottom: MB,
    x: {domain: [0, xMax], axis: null}, y: {domain: [y0, y1], axis: null},
    style: {background: "transparent", fontFamily: FONT, fontSize: "64px", color: "#111", overflow: "visible"},
    marks
  });
  svg.style.position = "absolute";
  svg.style.left = "0px";
  svg.style.top = (p.frameTop - MT) + "px";
  const sel = d3.select(svg);
  // y axis title
  const yt = sel.append("text").attr("transform", `translate(147,${MT + p.frameH / 2}) rotate(-90)`)
    .attr("text-anchor", "middle").attr("dy", "0.35em").attr("fill", "#111")
    .style("font-family", FONT).style("font-size", "67px");
  yt.append("tspan").style("font-style", "italic").text("p");
  yt.append("tspan").text("/kPa");
  // x axis title
  const xt = sel.append("text").attr("x", ML + plotW / 2).attr("y", MT + p.frameH + 163)
    .attr("text-anchor", "middle").attr("dy", "0.35em").attr("fill", "#111")
    .style("font-family", FONT).style("font-size", "67px");
  xt.append("tspan").style("font-style", "italic").text("t");
  xt.append("tspan").text("/s");
  root.appendChild(svg);

  const cap = document.createElement("div");
  cap.className = "cap";
  cap.style.top = (p.frameTop + p.frameH + 252 - 40) + "px";
  cap.textContent = p.caption;
  root.appendChild(cap);
});

// Legends (above each chart)
const leg = d3.create("svg").attr("width", W).attr("height", H)
  .style("position", "absolute").style("left", "0px").style("top", "0px").style("pointer-events", "none");
const headX = [728, 1042, 1352];
const swX = [[652, 786], [970, 1102], [1285, 1409]];
panels.forEach(p => {
  const g = leg.append("g").style("font-family", FONT).attr("fill", "#111");
  caseNames.forEach((t, i) => g.append("text").attr("x", headX[i]).attr("y", p.headY).attr("dy", "0.35em")
    .attr("text-anchor", "middle").style("font-size", "65px").text(t));
  p.rows.forEach(r => {
    const t = g.append("text").attr("x", 551).attr("y", r.y + 26).style("font-size", "66px");
    t.append("tspan").style("font-style", "italic").text("P");
    t.append("tspan").attr("dy", 16).attr("dx", 2).style("font-size", "42px").text(r.sub);
    r.st.forEach((s, i) => {
      g.append("line").attr("x1", swX[i][0]).attr("x2", swX[i][1]).attr("y1", r.y).attr("y2", r.y)
        .attr("stroke", s.stroke).attr("stroke-width", 4).attr("stroke-dasharray", s.dash || null);
    });
  });
});
root.appendChild(leg.node());

// The browser viewport may be shorter than the 7918px figure; squeeze the figure vertically so all of it is photographed.
const vh = window.innerHeight || H;
if (vh < H) {
  const k = vh / H;
  root.style.transformOrigin = "0 0";
  root.style.transform = `scaleY(${k})`;
  document.documentElement.style.overflow = "hidden";
  document.body.style.overflow = "hidden";
  document.body.style.height = vh + "px";
}
</script>
</body></html>
